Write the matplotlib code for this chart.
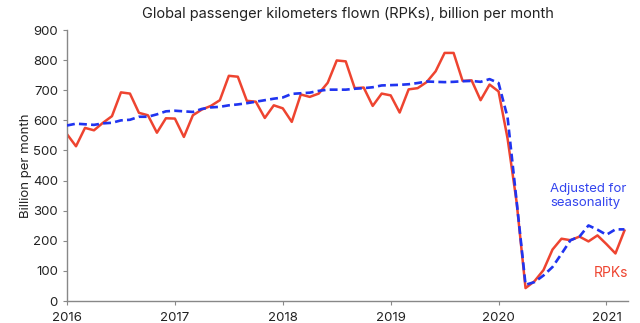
import matplotlib
matplotlib.use("Agg")
import matplotlib.pyplot as plt
import numpy as np

plt.rcParams['font.family'] = ['Inter', 'DejaVu Sans']

start_year = 2016
rpk = [
    554, 514, 575, 567, 592, 614, 693, 689, 625, 617, 559, 607,   # 2016
    606, 545, 617, 636, 648, 667, 748, 745, 665, 662, 608, 650,   # 2017
    640, 595, 686, 678, 689, 725, 799, 796, 707, 709, 648, 689,   # 2018
    683, 626, 703, 707, 727, 763, 824, 824, 731, 733, 667, 719,   # 2019
    696, 540, 330, 43, 66, 103, 171, 207, 202, 214, 198, 218,     # 2020
    189, 158, 234,                                                 # 2021
]
rpk_sa = [
    583, 589, 587, 585, 590, 592, 600, 602, 612, 612, 620, 630,   # 2016
    632, 630, 628, 638, 643, 645, 650, 653, 657, 662, 667, 672,   # 2017
    676, 688, 690, 692, 698, 702, 702, 702, 705, 707, 710, 716,   # 2018
    717, 718, 720, 724, 729, 728, 727, 728, 730, 731, 728, 737,   # 2019
    724, 610, 334, 54, 63, 85, 113, 157, 202, 214, 251, 237,      # 2020
    220, 238, 238,                                                 # 2021
]
year_ticks = [2016, 2017, 2018, 2019, 2020, 2021]
y_ticks = [0, 100, 200, 300, 400, 500, 600, 700, 800, 900]

x = start_year + np.arange(len(rpk)) / 12.0

red = '#EE4430'
blue = '#2034F0'

fig = plt.figure(figsize=(6.4, 3.23), dpi=100)
ax = fig.add_axes([0.1047, 0.068, 0.8766, 0.839])

ax.plot(x, rpk, color=red, lw=1.8, zorder=2)
ax.plot(x, rpk_sa, color=blue, lw=1.9, ls=(0, (3, 1.6)), zorder=3)

ax.set_xlim(2016, 2021.2)
ax.set_ylim(0, 900)
ax.set_xticks(year_ticks)
ax.set_xticklabels([str(y) for y in year_ticks])
ax.set_yticks(y_ticks)

for s in ['top', 'right']:
    ax.spines[s].set_visible(False)
for s in ['left', 'bottom']:
    ax.spines[s].set_color('#888888')
    ax.spines[s].set_linewidth(1.0)
ax.tick_params(axis='both', colors='#888888', labelcolor='#222222', labelsize=9.5, length=3)
ax.tick_params(axis='x', pad=5)

ax.set_ylabel('Billion per month', fontsize=9.5, color='#222222', labelpad=1)
ax.set_title('Global passenger kilometers flown (RPKs), billion per month',
             fontsize=10.5, color='#222222', pad=9)

ax.text(2020.48, 392, 'Adjusted for\nseasonality', color='#3344EE', fontsize=9.5,
        ha='left', va='top', linespacing=1.2)
ax.text(2021.2, 92, 'RPKs', color=red, fontsize=10, ha='right', va='center')

fig.savefig('out.png', dpi=100)
